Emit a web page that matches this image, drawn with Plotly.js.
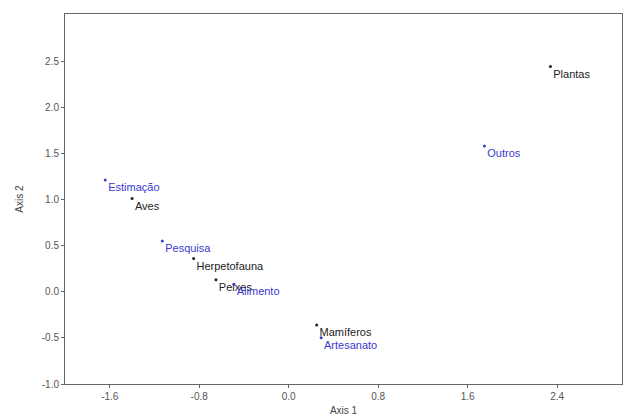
<!DOCTYPE html>
<html>
<head>
<meta charset="utf-8">
<script src="https://cdn.plot.ly/plotly-3.0.1.min.js"></script>
<style>html,body{margin:0;padding:0;background:#fff;}#chart{width:624px;height:418px;}</style>
</head>
<body>
<div id="chart"></div>
<script>
// Group A (black): taxa
const taxaLabels = ["Plantas", "Aves", "Herpetofauna", "Peixes", "Mamíferos"];
const taxaAxis1 = [2.34, -1.40, -0.85, -0.65, 0.25];
const taxaAxis2 = [2.44, 1.01, 0.36, 0.13, -0.36];
// Group B (blue): uses
const useLabels = ["Outros", "Estimação", "Pesquisa", "Alimento", "Artesanato"];
const useAxis1 = [1.75, -1.64, -1.13, -0.49, 0.29];
const useAxis2 = [1.58, 1.21, 0.55, 0.08, -0.50];
const xTicks = [-1.6, -0.8, 0.0, 0.8, 1.6, 2.4];
const yTicks = [-1.0, -0.5, 0.0, 0.5, 1.0, 1.5, 2.0, 2.5];

const fontFam = "Liberation Sans, Arial, sans-serif";
const black = "#222222";
const blue = "#3a3ad0";

const traces = [
  {
    x: taxaAxis1, y: taxaAxis2, text: taxaLabels,
    type: "scatter", mode: "markers+text", textposition: "bottom right",
    marker: {color: black, size: 3},
    textfont: {family: fontFam, size: 11, color: black},
    hoverinfo: "text"
  },
  {
    x: useAxis1, y: useAxis2, text: useLabels,
    type: "scatter", mode: "markers+text", textposition: "bottom right",
    marker: {color: blue, size: 3},
    textfont: {family: fontFam, size: 11, color: blue},
    hoverinfo: "text"
  }
];

const axisCommon = {
  showgrid: false, zeroline: false, showline: true, mirror: true,
  linecolor: "#666", linewidth: 1,
  ticks: "outside", ticklen: 3, tickcolor: "#666",
  tickfont: {family: fontFam, size: 10, color: "#555"}
};

const layout = {
  width: 624, height: 418,
  margin: {l: 65, r: 2, t: 14, b: 34},
  paper_bgcolor: "#fff", plot_bgcolor: "#fff",
  showlegend: false,
  xaxis: Object.assign({}, axisCommon, {
    range: [-2.0, 2.98],
    tickvals: xTicks, ticktext: xTicks.map(v => v.toFixed(1)),
    title: {text: "Axis 1", font: {family: fontFam, size: 10, color: "#444"}, standoff: 5}
  }),
  yaxis: Object.assign({}, axisCommon, {
    range: [-1.0, 3.01],
    tickvals: yTicks, ticktext: yTicks.map(v => v.toFixed(1)),
    title: {text: "Axis 2", font: {family: fontFam, size: 10, color: "#444"}, standoff: 16}
  })
};

Plotly.newPlot("chart", traces, layout, {displayModeBar: false, staticPlot: true});
</script>
</body>
</html>
